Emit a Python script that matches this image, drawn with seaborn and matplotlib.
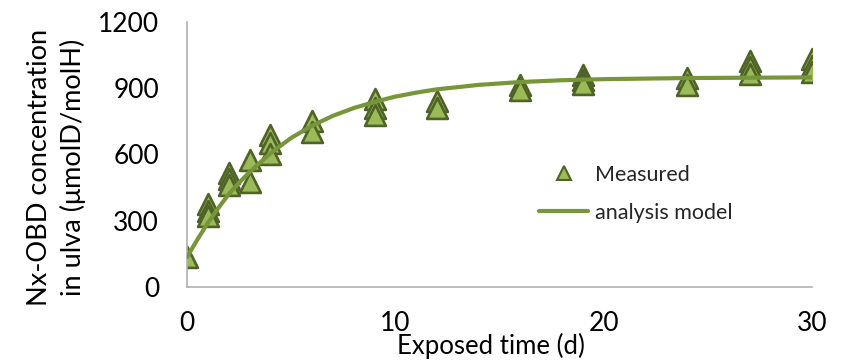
import matplotlib
matplotlib.use("Agg")
import matplotlib.pyplot as plt
from matplotlib.lines import Line2D
import seaborn as sns
import pandas as pd

# Measured Nx-OBD concentrations (replicates per sampling day)
days = [0, 1, 1, 1, 2, 2, 2, 3, 3, 4, 4, 4, 6, 6, 9, 9, 9, 12, 12,
        16, 16, 19, 19, 19, 24, 24, 27, 27, 27, 30, 30, 30]
measured = [135, 375, 345, 320, 515, 490, 460, 575, 475, 690, 650, 600,
            750, 700, 850, 810, 780, 840, 810, 915, 890, 960, 935, 920,
            945, 915, 1025, 995, 965, 1030, 1000, 975]

# Analysis model curve
model_days = [0, 0.5, 1, 1.5, 2, 2.5, 3, 4, 5, 6, 7, 8, 9, 10, 11, 12,
              14, 16, 18, 20, 24, 30]
model_vals = [135, 215, 290, 357, 420, 472, 520, 605, 675, 730, 775, 810,
              838, 862, 880, 895, 915, 928, 936, 941, 946, 949]

x_ticks = [0, 10, 20, 30]
y_ticks = [0, 300, 600, 900, 1200]

sns.set_theme(style="white")
plt.rcParams["font.family"] = ["Lato", "DejaVu Sans"]

fill_c = "#9BBB59"
edge_c = "#4F6228"
line_c = "#77963A"

df_meas = pd.DataFrame({"day": days, "conc": measured})
df_model = pd.DataFrame({"day": model_days, "conc": model_vals})

fig = plt.figure(figsize=(8.54, 3.6), dpi=100)
ax = fig.add_axes([0.219, 0.203, 0.732, 0.736])

sns.lineplot(data=df_model, x="day", y="conc", ax=ax, color=line_c,
             linewidth=3, zorder=3, legend=False)
sns.scatterplot(data=df_meas, x="day", y="conc", ax=ax, marker="^",
                s=225, color=fill_c, edgecolor=edge_c, linewidth=1.9,
                zorder=2, legend=False)

ax.set_xlim(0, 30)
ax.set_ylim(0, 1200)
ax.set_xticks(x_ticks)
ax.set_yticks(y_ticks)
ax.tick_params(axis="both", length=0, labelsize=19, colors="black")
ax.tick_params(axis="x", pad=17)
ax.tick_params(axis="y", pad=20)

for side in ("top", "right"):
    ax.spines[side].set_visible(False)
for side in ("left", "bottom"):
    ax.spines[side].set_color("#B0B0B0")
    ax.spines[side].set_linewidth(1.2)

ax.set_xlabel("")
ax.set_ylabel("")
fig.text(0.575, 0.04, "Exposed time (d)", ha="center", va="center",
         fontsize=18.5, color="black")
fig.text(0.066, 0.535, "Nx-OBD concentration\nin ulva (\u03bcmolD/molH)",
         rotation=90, ha="center", va="center", fontsize=19.5,
         color="black", linespacing=1.4)

handles = [
    Line2D([], [], linestyle="none", marker="^", markersize=10,
           markerfacecolor=fill_c, markeredgecolor=edge_c,
           markeredgewidth=1.5),
    Line2D([], [], color=line_c, linewidth=3),
]
ax.legend(handles, ["Measured", "analysis model"], frameon=False,
          fontsize=15.5, loc="center left", bbox_to_anchor=(0.532, 0.352),
          handlelength=2.3, handletextpad=0.28, labelspacing=0.85)

fig.savefig("out.png", dpi=100)
